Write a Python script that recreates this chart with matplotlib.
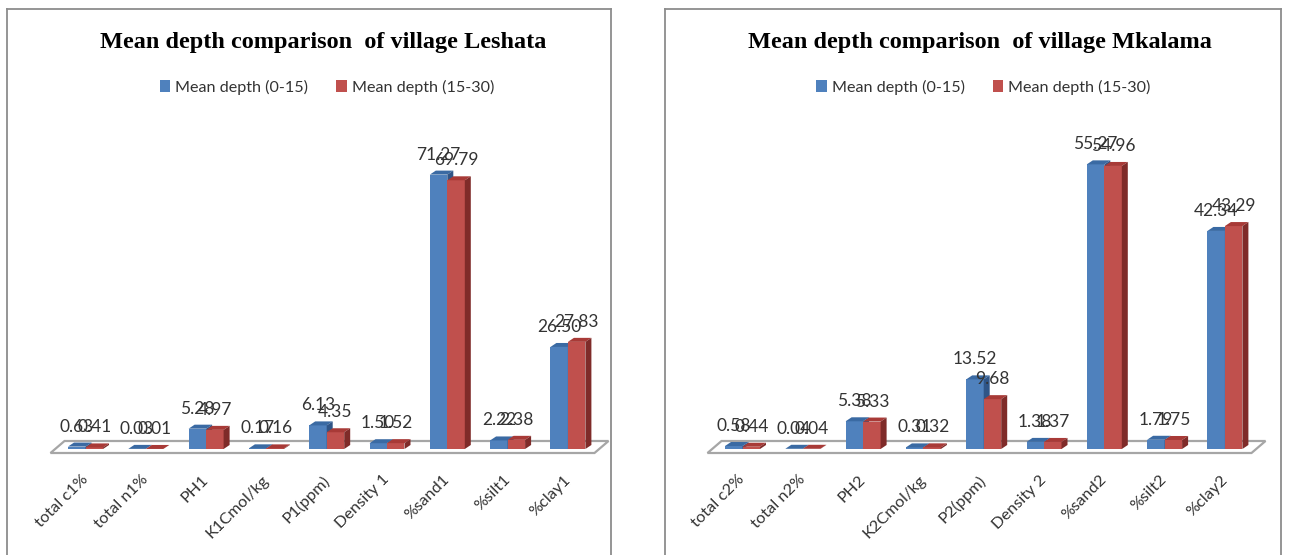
import matplotlib
matplotlib.use('Agg')
import matplotlib.pyplot as plt
from matplotlib.lines import Line2D
from matplotlib.patches import Polygon


W, H = 1301, 555

categories_left = ['total c1%', 'total n1%', 'PH1', 'K1Cmol/kg', 'P1(ppm)',
                   'Density 1', '%sand1', '%silt1', '%clay1']
depth_0_15_left = [0.63, 0.03, 5.28, 0.17, 6.13, 1.50, 71.27, 2.22, 26.50]
depth_15_30_left = [0.41, 0.01, 4.97, 0.16, 4.35, 1.52, 69.79, 2.38, 27.83]

categories_right = ['total c2%', 'total n2%', 'PH2', 'K2Cmol/kg', 'P2(ppm)',
                    'Density 2', '%sand2', '%silt2', '%clay2']
depth_0_15_right = [0.58, 0.04, 5.38, 0.31, 13.52, 1.38, 55.27, 1.79, 42.34]
depth_15_30_right = [0.44, 0.04, 5.33, 0.32, 9.68, 1.37, 54.96, 1.75, 43.29]

series_names = ['Mean depth (0-15)', 'Mean depth (15-30)']

BLUE = ('#4F81BD', '#3A6AA3', '#2F5587')
RED = ('#C0504D', '#A83A37', '#7F2B29')
FLOOR = '#A6A6A6'
TEXT = '#333333'
FONT = 'Lato'

SPACING = 60.3   # px between categories
BAR_W = 17.5     # px
DX, DY = 6, 4    # px of the 3d depth
BASE = 449       # px, foot of the bars


def px_axes(fig, left, top, right, bottom):
    return fig.add_axes([left / W, 1 - bottom / H,
                         (right - left) / W, (bottom - top) / H])


def draw_bars(ax, xs, values, colors, sx, sy):
    front, top, side = colors
    bars = ax.bar(xs, values, width=BAR_W / sx, color=front, zorder=3,
                  clip_on=False)
    dx, dy = DX / sx, DY / sy
    w = BAR_W / sx / 2
    for x, v in zip(xs, values):
        ax.add_patch(Polygon([(x - w, v), (x + w, v), (x + w + dx, v + dy),
                              (x - w + dx, v + dy)], color=top, lw=0,
                             zorder=3, clip_on=False))
        ax.add_patch(Polygon([(x + w, 0), (x + w + dx, dy),
                              (x + w + dx, v + dy), (x + w, v)], color=side,
                             lw=0, zorder=3, clip_on=False))
    return bars


def draw_panel(fig, frame, c0, scale, ymax, categories, first, second, title,
               title_x, legend_x):
    # axes run from half a category before the first to half after the last
    left = c0 - SPACING / 2
    right = left + SPACING * len(categories)
    ax = px_axes(fig, left, BASE - ymax * scale, right, BASE)
    ax.set_xlim(-0.5, len(categories) - 0.5)
    ax.set_ylim(0, ymax)
    ax.axis('off')
    sx, sy = SPACING, scale

    # frame of the chart, open at the bottom like the cropped original
    fl, ft, fr = frame
    for xa, ya, xb, yb in [(fl, H, fl, ft), (fl, ft, fr, ft), (fr, ft, fr, H)]:
        fig.add_artist(Line2D([xa / W, xb / W], [1 - ya / H, 1 - yb / H],
                              color='#8C8C8C', lw=1.3))

    # floor of the 3d chart
    x_front_l = -35 / sx
    x_front_r = x_front_l + 544 / sx
    floor = [(x_front_l, -4 / sy), (x_front_r, -4 / sy),
             (x_front_r + 14 / sx, 8 / sy), (x_front_l + 14 / sx, 8 / sy)]
    ax.add_patch(Polygon(floor, closed=True, fc='white', ec=FLOOR, lw=1.6,
                         zorder=1, clip_on=False))

    xs = list(range(len(categories)))
    off = BAR_W / 2 / sx
    xs1 = [x - off for x in xs]
    xs2 = [x + off for x in xs]
    b1 = draw_bars(ax, xs1, first, BLUE, sx, sy)
    b2 = draw_bars(ax, xs2, second, RED, sx, sy)

    for x, v in list(zip(xs1, first)) + list(zip(xs2, second)):
        ax.annotate(f'{v:.2f}', (x, v), xytext=(0, 20 * 0.72),
                    textcoords='offset points', ha='center', va='center',
                    fontsize=12.5, color=TEXT, family=FONT, zorder=5,
                    annotation_clip=False)

    for x, name in zip(xs, categories):
        ax.annotate(name, (x, 0), xytext=(-3.5, -17),
                    textcoords='offset points', ha='right', va='top',
                    rotation=45, rotation_mode='anchor', fontsize=11.8,
                    color=TEXT, family=FONT, annotation_clip=False)

    fig.text(title_x / W, 1 - 42.5 / H, title, ha='center', va='center',
             fontsize=17.5, fontweight='bold', family='Liberation Serif',
             color='black')
    fig.legend([b1[0], b2[0]], series_names, ncol=2, frameon=False,
               loc='center', bbox_to_anchor=(legend_x / W, 1 - 87 / H),
               prop={'family': FONT, 'size': 11.6}, labelcolor=TEXT,
               handlelength=0.65, handleheight=0.75, handletextpad=0.3,
               columnspacing=1.75)


def main():
    fig = plt.figure(figsize=(W / 100, H / 100), dpi=100, facecolor='white')

    draw_panel(fig, (7, 9, 611), 85.5, 3.85, 90, categories_left,
               depth_0_15_left, depth_15_30_left,
               'Mean depth comparison  of village Leshata', 323, 327)
    draw_panel(fig, (665, 9, 1281), 742.5, 5.15, 70, categories_right,
               depth_0_15_right, depth_15_30_right,
               'Mean depth comparison  of village Mkalama', 980, 983.5)

    plt.savefig('out.png', dpi=100)


if __name__ == "__main__":
    main()
